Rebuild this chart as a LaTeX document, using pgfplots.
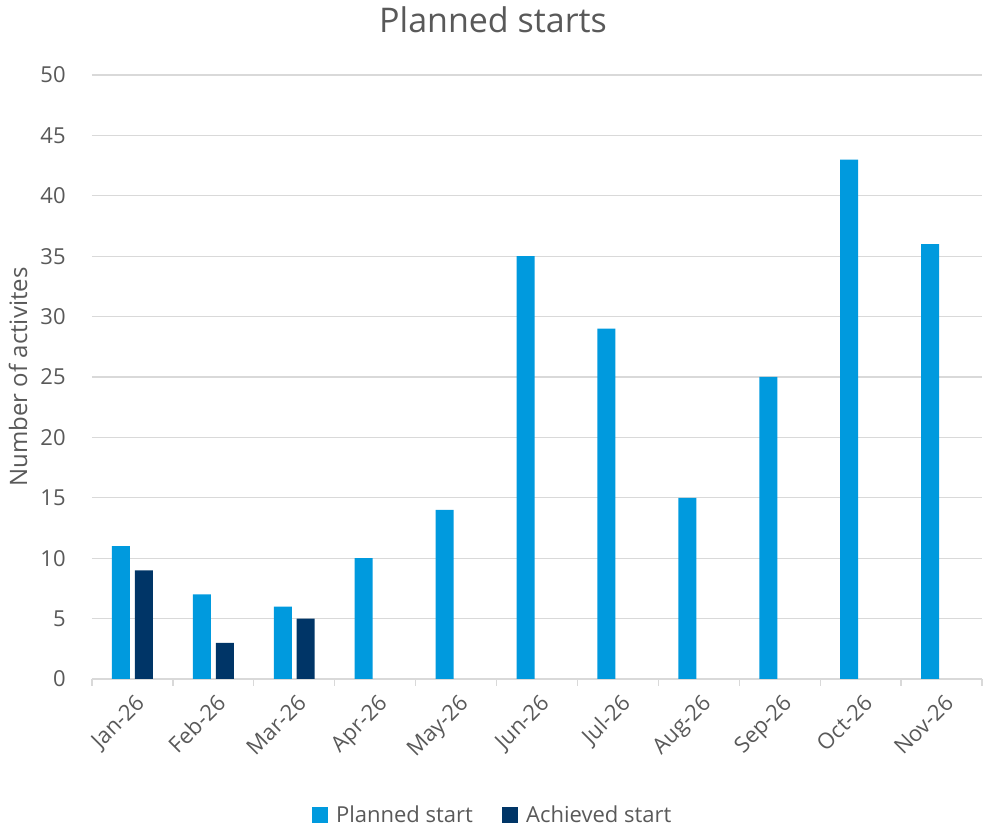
\documentclass[border=0pt]{standalone}
\usepackage{pgfplots}
\pgfplotsset{compat=1.18}
\usepackage{fontspec}
\setmainfont{Open Sans}
\definecolor{planned}{HTML}{009ADE}
\definecolor{achieved}{HTML}{003567}
\definecolor{txt}{HTML}{595959}
\definecolor{gridc}{HTML}{D9D9D9}
\begin{document}
\begin{tikzpicture}
\begin{axis}[name=ax, scale only axis, width=667.5pt, height=453pt,
  xmin=-0.5, xmax=10.5, ymin=0, ymax=50, ytick={0,5,...,50},
  xtick={0,...,10},
  xticklabels={Jan-26,Feb-26,Mar-26,Apr-26,May-26,Jun-26,Jul-26,Aug-26,Sep-26,Oct-26,Nov-26},
  minor xtick={-0.5,0.5,...,10.5},
  axis x line*=bottom, axis y line*=left,
  y axis line style={draw=none},
  x axis line style={draw=gridc, line width=1pt, -},
  major x tick style={draw=none}, ytick style={draw=none},
  minor x tick style={draw=gridc, line width=1pt},
  tick align=outside, minor tick length=5pt,
  ymajorgrids, grid style={draw=gridc, line width=1pt},
  /pgf/number format/assume math mode=true,
  yticklabel style={font=\fontsize{16.5}{19}\selectfont, text=txt, xshift=-12pt},
  xticklabel style={font=\fontsize{16.5}{19}\selectfont, text=txt, rotate=45, anchor=north east, xshift=0pt, yshift=-2pt},
  ylabel={Number of activites},
  ylabel style={at={(axis description cs:-0.0831,0.5)}, anchor=center, font=\fontsize{18}{21}\selectfont, text=txt},
  title={Planned starts},
  title style={at={(axis description cs:0.4506,1.078)}, anchor=center, font=\fontsize{25.5}{30}\selectfont, text=txt},
  ybar, bar width=13.5pt,
  legend style={at={(axis description cs:0.4506,-0.225)}, anchor=center, legend columns=2, draw=none, fill=none,
    font=\fontsize{16.5}{19}\selectfont, text=txt, /tikz/every even column/.append style={column sep=20pt}},
  legend image code/.code={\fill[#1] (0pt,-6pt) rectangle (12pt,6pt); \path (16pt,0pt);},
  clip=false,
]
\addplot[fill=planned, draw=none, bar shift=-8.6pt] coordinates {
(0,11) (1,7) (2,6) (3,10) (4,14) (5,35) (6,29) (7,15) (8,25) (9,43) (10,36)};
\addlegendentry{Planned start}
\addplot[fill=achieved, draw=none, bar shift=8.6pt] coordinates {
(0,9) (1,3) (2,5)};
\addlegendentry{Achieved start}
\end{axis}
\pgfresetboundingbox
\path (ax.south west) ++(-69pt,-113.25pt) rectangle ++(739.5pt,622.5pt);
\end{tikzpicture}
\end{document}
